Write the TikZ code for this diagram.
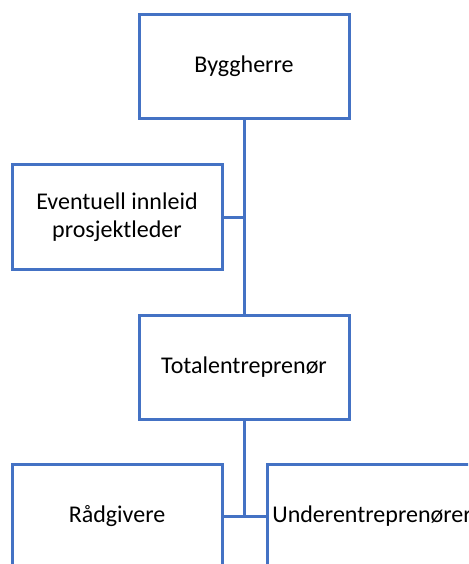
\documentclass[tikz,border=0pt]{standalone}
\usepackage{fontspec}
\setmainfont{Carlito}
\definecolor{orgblue}{HTML}{4472C4}
\begin{document}
\begin{tikzpicture}[x=1pt,y=-1pt,
  orgbox/.style={draw=orgblue, line width=3pt, fill=white, rectangle,
    minimum width=210pt, minimum height=104pt, inner sep=0pt,
    align=center, font=\fontsize{24}{28}\selectfont, text=black},
  link/.style={draw=orgblue, line width=3pt}]
  \useasboundingbox (0,0) rectangle (468,564);
  \clip (0,0) rectangle (468,564);

  % hierarchy boxes
  \node[orgbox] (bh)  at (244,66.5) {Byggherre};
  \node[orgbox] (pl)  at (117,217)  {Eventuell innleid\\prosjektleder};
  \node[orgbox] (te)  at (244,367)  {Totalentreprenør};
  \node[orgbox] (rg)  at (117,516)  {Rådgivere};
  \node[orgbox] (ue)  at (372,516)  {Underentreprenører};

  % junction points on the trunk
  \coordinate (j1) at (pl.east -| bh.south);
  \coordinate (j2) at (rg.east -| te.south);

  % connectors
  \draw[link] (bh.south) -- (te.north);
  \draw[link] (pl.east) -- (j1);
  \draw[link] (te.south) -- (j2);
  \draw[link] (rg.east) -- (ue.west);
\end{tikzpicture}
\end{document}
